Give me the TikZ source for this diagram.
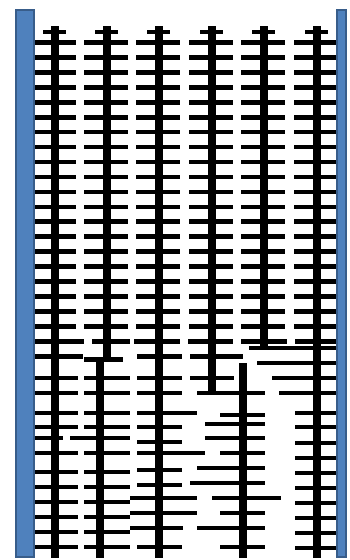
\documentclass[tikz,border=0pt]{standalone}
\definecolor{wallfill}{RGB}{79,129,189}
\definecolor{wallline}{RGB}{56,93,138}
\tikzset{
  wall/.style={fill=wallfill,draw=wallline,line width=1.5pt},
  spine/.style={line width=8.5pt},
  rung/.style={line width=4.6pt},
}
\begin{document}
\begin{tikzpicture}[x=1pt,y=-1pt]
        \useasboundingbox (0,0) rectangle (350,560);
        \foreach \x in {55,107,159,212,264,317} {
                \draw[rung] (\x-12,32) -- (\x+11,32);
                \foreach \k [evaluate=\k as \y using 42.6+14.93*\k] in {0,...,19}
                        \draw[rung] (\x-23,\y) -- (\x+21,\y);
        }

        \draw[spine] (55,26) -- (55,558);
        \draw[spine] (107,26) -- (107,359);
        \draw[spine] (100,362) -- (100,558);
        \draw[spine] (159,26) -- (159,558);
        \draw[spine] (212,26) -- (212,393);
        \draw[spine] (264,26) -- (264,348);
        \draw[spine] (317,26) -- (317,558);
        \draw[spine] (243,363) -- (243,558);

        \foreach \a/\b/\y in {32/84/341.2, 92/130/341.2, 134/180/341.2, 188/233/341.2, 241/287/341.2, 295/338/341.2,
                32/83/356.5, 137/182/356.5, 190/243/356.5, 84/123/359.5, 249/340/348, 257/340/363,
                32/78/378, 84/130/378, 137/182/378, 190/234/378, 272/340/378,
                32/78/393, 84/130/393, 137/182/393, 197/265/393, 279/340/393,
                32/78/413, 84/130/413, 137/197/413, 295/340/413, 220/265/415, 205/265/424,
                32/78/427, 84/130/427, 137/182/427, 295/340/427,
                32/63/438, 70/130/438, 205/265/438, 137/182/442, 295/340/443,
                32/78/453, 84/130/453, 137/205/453, 220/265/453, 295/340/458,
                197/265/468, 137/182/470, 32/78/472, 84/130/472, 295/340/473,
                190/265/483, 137/182/485, 32/78/487, 84/130/487, 295/340/488,
                130/197/498, 212/281/498, 32/78/502, 84/130/502, 295/340/503,
                130/197/513, 220/265/513, 32/78/517, 84/130/517, 295/340/518,
                130/183/528, 197/265/528, 32/78/532, 84/130/532, 295/340/533,
                32/78/547, 84/130/547, 137/182/547, 220/265/547, 295/340/548}
                \draw[rung] (\a,\y) -- (\b,\y);

        \draw[wall] (16,10) rectangle (34,557);
        \draw[wall] (337,10) rectangle (346,557);
\end{tikzpicture}
\end{document}
